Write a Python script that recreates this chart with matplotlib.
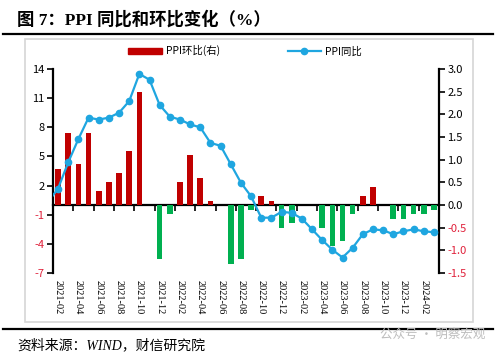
import numpy as np
import pandas as pd
import matplotlib
matplotlib.use("Agg")
import matplotlib.pyplot as plt
from matplotlib.lines import Line2D
from matplotlib.patches import Rectangle, Patch

plt.rcParams['font.family'] = ['Noto Sans CJK SC', 'DejaVu Sans']
plt.rcParams['axes.unicode_minus'] = False

# monthly data, 2021-01 .. 2024-03
months = [p.strftime('%Y-%m') for p in pd.period_range('2021-01', '2024-03', freq='M')]
ppi_yoy = [0.3, 1.7, 4.4, 6.8, 9.0, 8.8, 9.0, 9.5, 10.7, 13.5, 12.9, 10.3,
           9.1, 8.8, 8.3, 8.0, 6.4, 6.1, 4.2, 2.3, 0.9, -1.3, -1.3, -0.7,
           -0.8, -1.4, -2.5, -3.6, -4.6, -5.4, -4.4, -3.0, -2.5, -2.6, -3.0, -2.7,
           -2.5, -2.7, -2.8]
ppi_mom = [0.8, 0.8, 1.6, 0.9, 1.6, 0.3, 0.5, 0.7, 1.2, 2.5, 0.0, -1.2,
           -0.2, 0.5, 1.1, 0.6, 0.1, 0.0, -1.3, -1.2, -0.1, 0.2, 0.1, -0.5,
           -0.4, 0.0, 0.0, -0.5, -0.9, -0.8, -0.2, 0.2, 0.4, 0.0, -0.3, -0.3,
           -0.2, -0.2, -0.1]
left_ticks = [-7, -4, -1, 2, 5, 8, 11, 14]
right_ticks = [-1.5, -1.0, -0.5, 0.0, 0.5, 1.0, 1.5, 2.0, 2.5, 3.0]

RED = '#C00000'
GREEN = '#00B050'
BLUE = '#1FA6E0'
NEG = '#E0203A'

x = np.arange(len(months))
mom = np.array(ppi_mom)

fig = plt.figure(figsize=(5, 3.56), dpi=100)

# title, rules and outer box
fig.text(0.034, 0.945, '图 7：PPI 同比和环比变化（%）', fontsize=12.5, fontweight='bold',
         family=['Liberation Serif', 'Noto Sans CJK SC'], va='center')
fig.add_artist(Line2D([0.006, 0.986], [1 - 34 / 356] * 2, color='black', lw=1.6))
fig.add_artist(Line2D([0.006, 0.986], [1 - 329 / 356] * 2, color='black', lw=1.6))
fig.add_artist(Rectangle((25 / 500, 1 - 322 / 356), 448 / 500, 283 / 356, fill=False,
                         ec='#D6D6D6', lw=1.2, transform=fig.transFigure))
fig.text(0.034, 0.031, '资料来源：WIND，财信研究院', fontsize=10, style='italic',
         family=['Liberation Serif', 'Noto Sans CJK SC'], va='center')
fig.text(0.97, 0.06, '公众号 · 明察宏观', fontsize=9, color='#BDBDBD', ha='right', va='center')

ax = fig.add_axes([0.106, 0.233, 0.772, 0.573])
ax2 = ax.twinx()
ax.set_zorder(1)
ax2.set_zorder(2)

# bars: month-on-month (right axis)
ax.bar(x, mom, width=0.55, color=np.where(mom >= 0, RED, GREEN), zorder=2)
ax.set_ylim(-1.5, 3.0)
ax.yaxis.tick_right()
ax.set_yticks(right_ticks)
ax.set_yticklabels([f'{v:.1f}' for v in right_ticks])
ax.tick_params(axis='y', direction='out', length=4, width=1.2, labelsize=8, pad=2)
for lab, v in zip(ax.get_yticklabels(), right_ticks):
    lab.set_color(NEG if v < 0 else 'black')
for s in ['top', 'bottom', 'left']:
    ax.spines[s].set_visible(False)
ax.spines['right'].set_linewidth(1.6)

# x labels at the bottom
ax.set_xlim(0.5, len(months) - 0.5)
ax.set_xticks(x[1::2])
ax.set_xticklabels(months[1::2], rotation=270, fontsize=7.5, family='Liberation Serif')
ax.tick_params(axis='x', length=0, pad=5)

# line: year-on-year (left axis)
ax2.patch.set_visible(False)
ax2.plot(x, ppi_yoy, color=BLUE, lw=1.6, marker='o', markersize=4.5, zorder=3)
ax2.set_ylim(-7, 14)
ax2.yaxis.tick_left()
ax2.set_yticks(left_ticks)
ax2.tick_params(axis='y', direction='out', length=4, width=1.2, labelsize=8, pad=2)
for lab, v in zip(ax2.get_yticklabels(), left_ticks):
    lab.set_color(NEG if v < 0 else 'black')
for s in ['top', 'bottom', 'right']:
    ax2.spines[s].set_visible(False)
ax2.spines['left'].set_linewidth(1.6)

# zero line with tick marks between every two months
zero = ax.secondary_xaxis(1 / 3)
zero.set_xticks(np.arange(0.5, len(months), 2))
zero.set_xticklabels([])
zero.tick_params(axis='x', direction='out', length=4, width=1.2)
zero.spines['bottom'].set_linewidth(1.6)

# legend
handles = [Patch(color=RED),
           Line2D([], [], color=BLUE, lw=1.6, marker='o', markersize=4.5)]
fig.legend(handles, ['PPI环比(右)', 'PPI同比'], loc='center', bbox_to_anchor=(0.49, 0.857),
           ncol=2, frameon=False, fontsize=7.5, handlelength=3.2, handleheight=0.5,
           columnspacing=6.5, handletextpad=0.4)

fig.savefig('out.png', dpi=100)
